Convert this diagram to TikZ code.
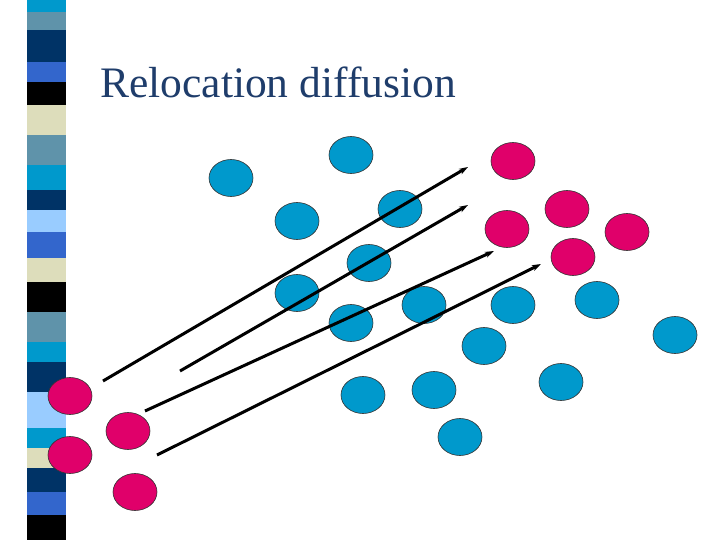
\documentclass[tikz,border=0pt]{standalone}
\usepackage{fontspec}
\setmainfont{Liberation Serif}
\usetikzlibrary{arrows.meta,shapes.geometric}
\definecolor{cy}{HTML}{0099CC}
\definecolor{st}{HTML}{5F93AA}
\definecolor{nv}{HTML}{003366}
\definecolor{rb}{HTML}{3366CC}
\definecolor{bg}{HTML}{DDDDBB}
\definecolor{lb}{HTML}{99CCFF}
\definecolor{bdot}{HTML}{0099CC}
\definecolor{pdot}{HTML}{E0006A}
\definecolor{ttl}{HTML}{1F3D6B}
\begin{document}
\begin{tikzpicture}[x=1pt,y=-1pt,
  bd/.style={ellipse,minimum width=44pt,minimum height=37pt,inner sep=0pt,fill=bdot,draw=black!80,line width=0.6pt},
  pd/.style={ellipse,minimum width=44pt,minimum height=37pt,inner sep=0pt,fill=pdot,draw=black!80,line width=0.6pt},
  mv/.style={line width=3pt,-{Stealth[length=9pt,width=6pt]}}]
\useasboundingbox (0,0) rectangle (720,540);
\fill[white] (0,0) rectangle (720,540);
\foreach \a/\b/\c in {0/12/cy,12/30/st,30/62/nv,62/82/rb,82/105/black,105/135/bg,135/165/st,165/190/cy,190/210/nv,210/232/lb,232/258/rb,258/282/bg,282/312/black,312/342/st,342/362/cy,362/392/nv,392/428/lb,428/448/cy,448/468/bg,468/492/nv,492/515/rb,515/540/black}
  \fill[\c] (27,\a) rectangle (66,\b);
\node[anchor=base west,text=ttl,font=\fontsize{43.5}{50}\selectfont,inner sep=0pt] (t) at (100,98) {Relocation diffusion};
\foreach \x/\y [count=\i] in {231/178,351/155,297/221,400/209,369/263,297/293,351/323,424/305,513/305,597/300,484/346,675/335,363/395,434/390,561/382,460/437}
  \node[bd] (b\i) at (\x,\y) {};
\foreach \x/\y [count=\i] in {513/161,567/209,627/232,507/229,573/257,70/396,128/431,70/455,135/492}
  \node[pd] (p\i) at (\x,\y) {};
\coordinate (s1) at (103,381); \coordinate (e1) at (468,167);
\coordinate (s2) at (180,371); \coordinate (e2) at (468,205);
\coordinate (s3) at (145,411); \coordinate (e3) at (494,251);
\coordinate (s4) at (157,455); \coordinate (e4) at (541,264);
\foreach \i in {1,...,4} \draw[mv] (s\i) -- (e\i);
\end{tikzpicture}
\end{document}
